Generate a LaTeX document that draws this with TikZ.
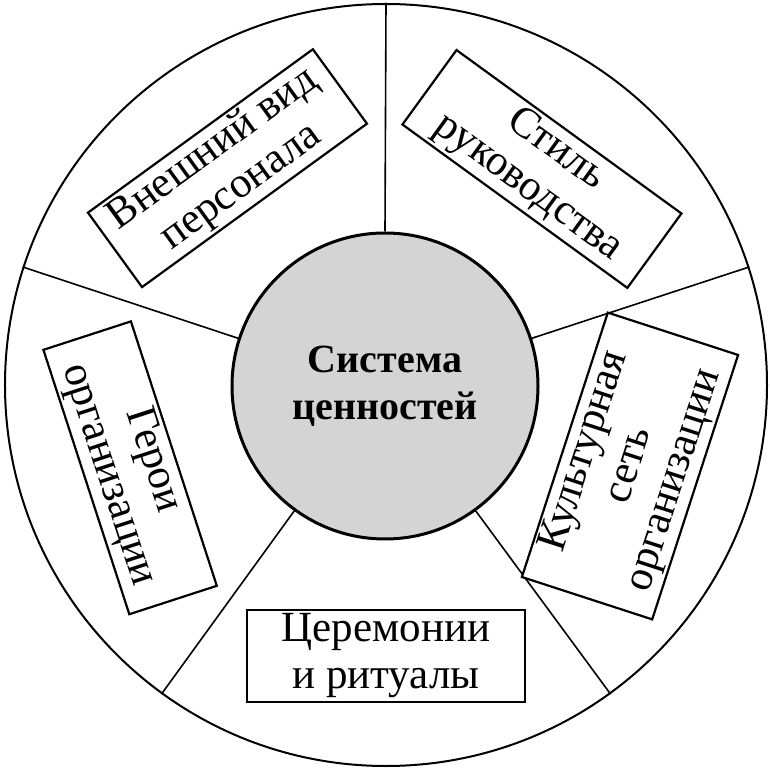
\documentclass[tikz,border=0pt]{standalone}
\usepackage{fontspec}
\setmainfont{Liberation Serif}
\begin{document}
\begin{tikzpicture}[x=0.5pt,y=0.5pt,
  lbl/.style={draw, line width=1.1pt, fill=white, align=center, inner sep=0pt,
    minimum width=139pt, minimum height=46pt, font=\fontsize{21.5}{23.5}\selectfont},
  divider/.style={line width=0.8pt}
]
\fill[white] (-385,-385) rectangle (385,385);
\useasboundingbox (-385,-385) rectangle (385,385);
\node[circle, draw, line width=1pt, minimum size=381pt, inner sep=0pt] (outer) at (1,0) {};
\node[circle, draw, line width=1.5pt, fill=black!17, minimum size=153pt, inner sep=0pt,
  font=\bfseries\fontsize{20}{23.5}\selectfont, align=center] (core) at (0,-1) {Система\\ценностей};
\foreach \a in {90,162,234,306,18} \draw[divider] (core.\a) -- (outer.\a);
\node[lbl, rotate=36] (vid) at (126:268) {Внешний вид\\персонала};
\node[lbl, rotate=-36] (stil) at (54:267) {Стиль\\руководства};
\node[lbl] (cer) at (1,-271) {Церемонии\\и ритуалы};
\node[lbl, rotate=-72] (geroi) at (198:268) {Герои\\организации};
\node[lbl, rotate=72, minimum height=68.5pt] (set) at (245,-81) {Культурная\\сеть\\организации};
\end{tikzpicture}
\end{document}
